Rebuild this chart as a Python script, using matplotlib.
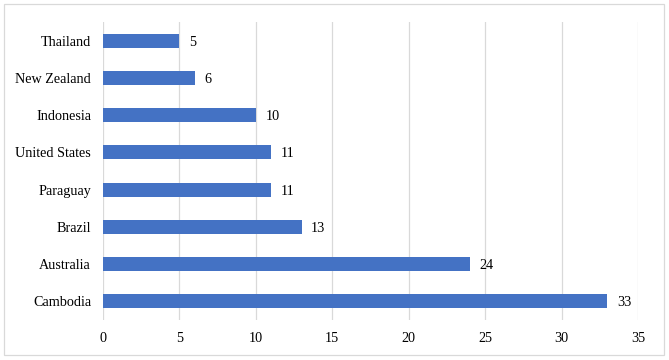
import matplotlib
matplotlib.use("Agg")
import matplotlib.pyplot as plt
from matplotlib.patches import Rectangle

countries = ["Cambodia", "Australia", "Brazil", "Paraguay", "United States", "Indonesia", "New Zealand", "Thailand"]
values = [33, 24, 13, 11, 11, 10, 6, 5]
xticks = [0, 5, 10, 15, 20, 25, 30, 35]

plt.rcParams['font.family'] = ['Liberation Serif', 'DejaVu Serif']
FS = 10.2

fig = plt.figure(figsize=(6.69, 3.60), dpi=100)
ax = fig.add_axes([103/669, 1-320/360, (638-103)/669, (320-22)/360])

ypos = list(range(len(countries)))
ax.barh(ypos, values, height=0.38, color="#4472C4", zorder=3)
for y, v in zip(ypos, values):
    ax.text(v + 0.62, y, str(v), va='center_baseline', ha='left', fontsize=FS, color='#000000')

ax.set_xlim(0, 35)
ax.set_ylim(-0.5, len(countries) - 0.5)
ax.set_xticks(xticks)
ax.set_xticklabels([str(t) for t in xticks], fontsize=FS)
ax.set_yticks(ypos)
ax.set_yticklabels(countries, fontsize=FS)
ax.tick_params(axis='y', length=0, pad=8.6)
ax.tick_params(axis='x', length=0, pad=8.5)
ax.grid(axis='x', color='#D9D9D9', linewidth=0.9, zorder=0)
for s in ax.spines.values():
    s.set_visible(False)

fig.patches.append(Rectangle((4/669, 1-355/360), 660/669, 351/360, transform=fig.transFigure,
                             fill=False, edgecolor='#D9D9D9', linewidth=0.9))

fig.savefig("out.png", dpi=100)
